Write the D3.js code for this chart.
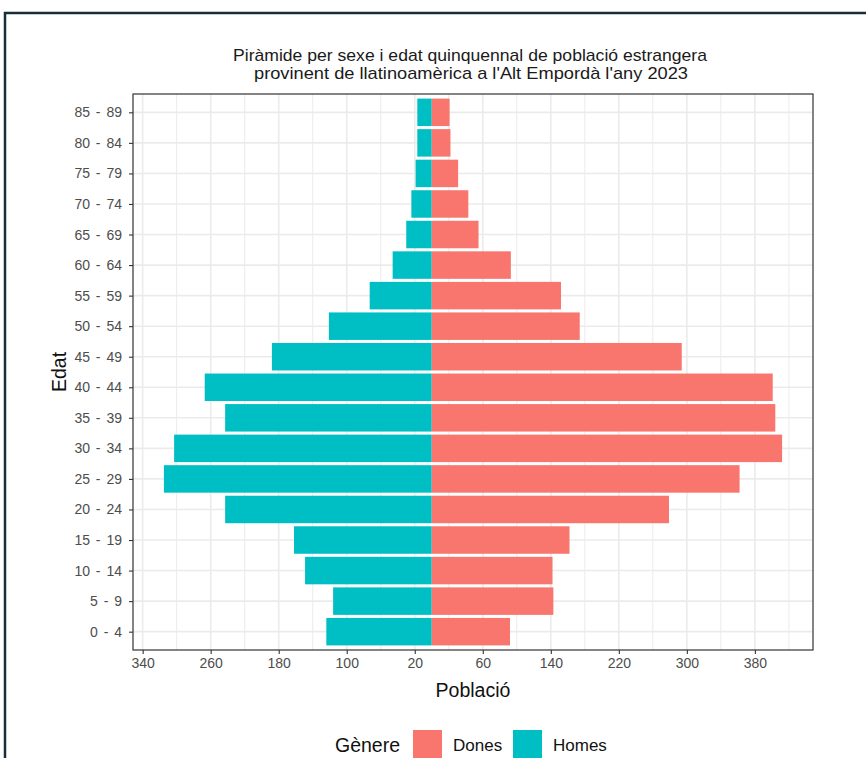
<!DOCTYPE html>
<html><head><meta charset="utf-8">
<script src="https://cdn.jsdelivr.net/npm/d3@7"></script>
<style>
html,body{margin:0;padding:0;background:#fff;}
svg{display:block;font-family:"Liberation Sans",Arial,sans-serif;}
</style></head>
<body>
<svg id="chart" width="866" height="758"></svg>
<script>
const ages = ["0 - 4","5 - 9","10 - 14","15 - 19","20 - 24","25 - 29","30 - 34","35 - 39","40 - 44","45 - 49","50 - 54","55 - 59","60 - 64","65 - 69","70 - 74","75 - 79","80 - 84","85 - 89"];
const dones = [92, 143, 142, 162, 279, 362, 412, 404, 401, 294, 174, 152, 93, 55, 43, 31, 22, 21];
const homes = [124, 116, 149, 162, 243, 315, 303, 243, 267, 188, 121, 73, 46, 30, 24, 19, 17, 17];
const xTicks = [-340, -260, -180, -100, -20, 60, 140, 220, 300, 380];
const xMinor = [-380, -300, -220, -140, -60, 20, 100, 180, 260, 340, 420];
const titleLines = ["Piràmide per sexe i edat quinquennal de població estrangera", "provinent de llatinoamèrica a l'Alt Empordà l'any 2023"];
const genres = ["Dones", "Homes"];
const colors = {"Dones": "#F8766D", "Homes": "#00BFC4"};

const svg = d3.select("#chart");
const P = {l:133, r:813, t:94, b:650};

// frame
svg.append("path").attr("d", `M5,${760} L5,13 L870,13`).attr("fill","none").attr("stroke","#162e38").attr("stroke-width",2.5);

const lo = -d3.max(homes), hi = d3.max(dones), ex = (hi - lo) * 0.05;
const x = d3.scaleLinear().domain([lo - ex, hi + ex]).range([P.l, P.r]);
const y = d3.scalePoint().domain(ages).range([P.b, P.t]).padding(0.6);
const bh = y.step() * 0.9;

const g = svg.append("g");
// grid
g.selectAll(".gminor").data(xMinor.filter(v => x(v) > P.l && x(v) < P.r)).join("line")
  .attr("x1", d => x(d)).attr("x2", d => x(d)).attr("y1", P.t).attr("y2", P.b)
  .attr("stroke", "#EBEBEB").attr("stroke-width", 1);
g.selectAll(".gmajor").data(xTicks).join("line")
  .attr("x1", d => x(d)).attr("x2", d => x(d)).attr("y1", P.t).attr("y2", P.b)
  .attr("stroke", "#EBEBEB").attr("stroke-width", 1.6);
g.selectAll(".gy").data(ages).join("line")
  .attr("x1", P.l).attr("x2", P.r).attr("y1", d => y(d)).attr("y2", d => y(d))
  .attr("stroke", "#EBEBEB").attr("stroke-width", 1.6);

// bars
g.selectAll(".bh").data(ages).join("rect")
  .attr("x", (d,i) => x(-homes[i])).attr("width", (d,i) => x(0) - x(-homes[i]))
  .attr("y", d => y(d) - bh/2).attr("height", bh).attr("fill", colors.Homes);
g.selectAll(".bd").data(ages).join("rect")
  .attr("x", x(0)).attr("width", (d,i) => x(dones[i]) - x(0))
  .attr("y", d => y(d) - bh/2).attr("height", bh).attr("fill", colors.Dones);

// panel border
svg.append("rect").attr("x", P.l).attr("y", P.t).attr("width", P.r - P.l).attr("height", P.b - P.t)
  .attr("fill","none").attr("stroke","#333333").attr("stroke-width",1.2);

// axes
const xa = svg.append("g").attr("transform", `translate(0,${P.b})`)
  .call(d3.axisBottom(x).tickValues(xTicks).tickFormat(d => Math.abs(d)).tickSize(4).tickPadding(4));
const ya = svg.append("g").attr("transform", `translate(${P.l},0)`)
  .call(d3.axisLeft(y).tickSize(4).tickPadding(7));
[xa, ya].forEach(a => {
  a.select(".domain").remove();
  a.selectAll(".tick line").attr("stroke", "#333333").attr("stroke-width", 1.1);
  a.selectAll(".tick text").attr("fill", "#4D4D4D").attr("font-size", 14).attr("font-family", "Liberation Sans, Arial, sans-serif");
});
ya.selectAll(".tick text").attr("word-spacing", "2px");

// titles
const tl = [474, 434];
svg.append("text").attr("y", 61).attr("text-anchor","middle").attr("font-size",17).attr("fill","#1a1a1a")
  .selectAll("tspan").data(titleLines).join("tspan")
  .attr("x", (d,i) => i ? 471 : 470).attr("dy", (d,i) => i ? 18 : 0)
  .attr("textLength", (d,i) => tl[i]).attr("lengthAdjust", "spacingAndGlyphs").text(d => d);
svg.append("text").attr("x", 473).attr("y", 697).attr("text-anchor","middle").attr("font-size",19.5).attr("fill","#111").text("Població");
svg.append("text").attr("transform", `translate(66,${(P.t+P.b)/2}) rotate(-90)`).attr("text-anchor","middle").attr("font-size",19.5).attr("fill","#111").text("Edat");

// legend
svg.append("text").attr("x", 335).attr("y", 752).attr("font-size", 19.5).attr("fill","#111").text("Gènere");
const lg = svg.selectAll(".lg").data(genres).join("g").attr("transform", (d,i) => `translate(${413 + i*100},730)`);
lg.append("rect").attr("width", 29).attr("height", 29).attr("fill", d => colors[d]);
lg.append("text").attr("x", 40).attr("y", 21).attr("font-size", 17).attr("fill","#111").text(d => d);
</script>
</body></html>
